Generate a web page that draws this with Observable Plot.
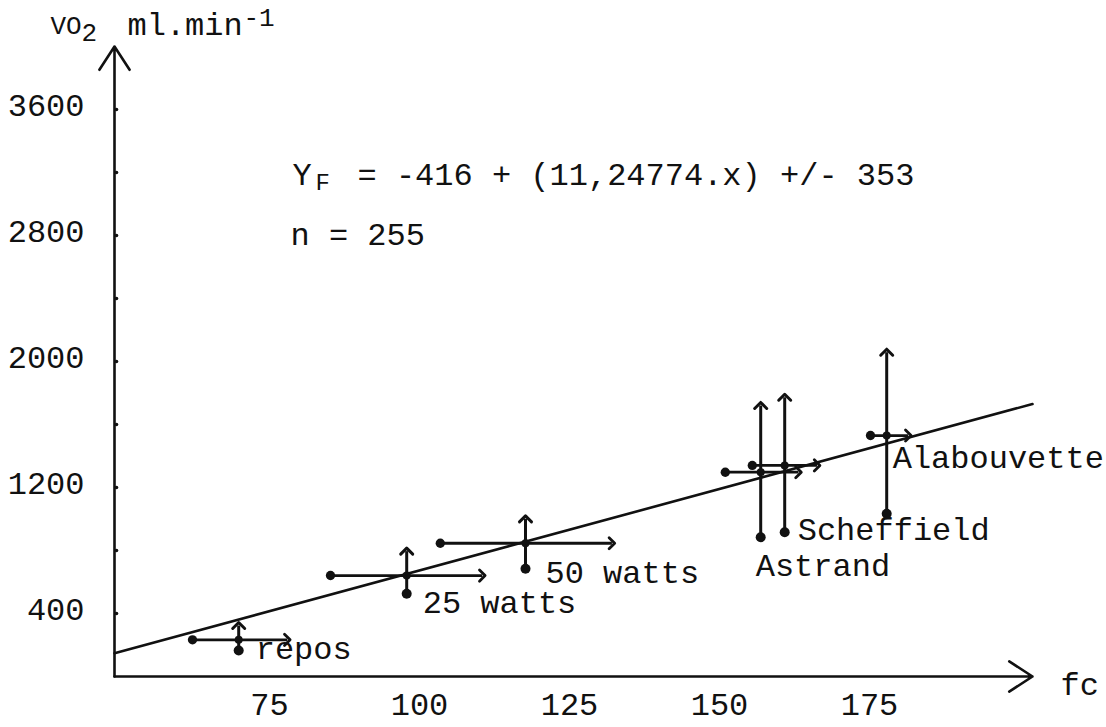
<!DOCTYPE html>
<html>
<head>
<meta charset="utf-8">
<script src="https://cdn.jsdelivr.net/npm/d3@7"></script>
<script src="https://cdn.jsdelivr.net/npm/@observablehq/plot@0.6"></script>
<style>
  html, body { margin: 0; padding: 0; background: #fff; }
  #chart svg { display: block; }
</style>
</head>
<body>
<div id="chart"></div>
<script>
// ---- data ----
const conditions = ["repos", "25 watts", "50 watts", "Astrand", "Scheffield", "Alabouvette"];
const fcMean  = [70.7, 98.7, 118.5, 157.7, 161.7, 178.7];
const fcLow   = [63.0, 86.0, 104.3, 151.8, 156.3, 176.0];
const fcHigh  = [78.8, 111.3, 132.9, 164.0, 167.1, 182.3];
const vo2Mean = [233, 641, 846, 1297, 1340, 1530];
const vo2Low  = [165, 525, 684, 884, 916, 1033];
const vo2High = [324, 796, 1001, 1721, 1773, 2059];

const fitFc  = [50, 203];
const fitVo2 = [148, 1730];

const xAxisExtent = [50, 203];
const yAxisExtent = [0, 4000];
const xTicks = [75, 100, 125, 150, 175];
const yTickLabels = [400, 1200, 2000, 2800, 3600];
const yMinorTicks = [400, 800, 1200, 1600, 2000, 2400, 2800, 3200, 3600];

const yLabelParts = ["VO", "2", "ml.min", "-1"];
const xLabel = "fc";
const equationParts = ["Y", "F", "= -416 + (11,24774.x) +/- 353"];
const nText = "n = 255";

// ---- build tables ----
const points = conditions.map((c, i) => ({
  name: c, fc: fcMean[i], lo: fcLow[i], hi: fcHigh[i],
  vo2: vo2Mean[i], vlo: vo2Low[i], vhi: vo2High[i]
}));
const fitLine = fitFc.map((x, i) => ({fc: x, vo2: fitVo2[i]}));
const axes = [
  {x1: xAxisExtent[0], y1: yAxisExtent[0], x2: xAxisExtent[1], y2: yAxisExtent[0]},
  {x1: xAxisExtent[0], y1: yAxisExtent[0], x2: xAxisExtent[0], y2: yAxisExtent[1]}
];

// label offsets (pixels) relative to each mean point
const labelOffsets = {
  "repos": [17, 8.5], "25 watts": [16, 27], "50 watts": [20, 29],
  "Astrand": [-5, 94], "Scheffield": [13, 64], "Alabouvette": [6, 22]
};

const ink = "#111";
const FS = 32;

const labelMarks = points.map(p => Plot.text([p], {
  x: "fc", y: "vo2", text: "name", textAnchor: "start", lineAnchor: "middle",
  dx: labelOffsets[p.name][0], dy: labelOffsets[p.name][1], fontSize: FS, fill: ink
}));

const tl = (txt, dx, dy, fs) => Plot.text([txt], {
  text: d => d, frameAnchor: "top-left", textAnchor: "start", lineAnchor: "middle",
  dx, dy, fontSize: fs, fill: ink
});

const chart = Plot.plot({
  width: 1106, height: 727,
  marginLeft: 114, marginRight: 74, marginTop: 46, marginBottom: 51,
  x: {domain: xAxisExtent},
  y: {domain: yAxisExtent},
  style: {fontFamily: "'Liberation Mono', 'DejaVu Sans Mono', monospace", fontSize: FS + "px", color: ink, background: "#fff"},
  marks: [
    // axes with arrowheads
    Plot.arrow(axes, {x1: "x1", y1: "y1", x2: "x2", y2: "y2", stroke: ink, strokeWidth: 2.6, headLength: 16, headAngle: 66}),
    Plot.dot(yMinorTicks, {x: () => xAxisExtent[0], y: d => d, r: 1.8, dx: 2, fill: ink}),
    Plot.axisY(yTickLabels, {tickSize: 0, tickPadding: 30, dy: -4, fontSize: FS, tickFormat: d => String(d), fill: ink, label: null}),
    Plot.axisX(xTicks, {tickSize: 0, tickPadding: 16, dx: 5, fontSize: FS, tickFormat: d => String(d), fill: ink, label: null}),
    // regression line
    Plot.line(fitLine, {x: "fc", y: "vo2", stroke: ink, strokeWidth: 2.6}),
    // error bars
    Plot.link(points, {x1: "lo", x2: "hi", y1: "vo2", y2: "vo2", stroke: ink, strokeWidth: 2.8, markerStart: "dot", markerEnd: "arrow"}),
    Plot.link(points, {x1: "fc", x2: "fc", y1: "vlo", y2: "vhi", stroke: ink, strokeWidth: 3, markerStart: "dot", markerEnd: "arrow"}),
    Plot.dot(points, {x: "fc", y: "vo2", r: 4, fill: ink}),
    ...labelMarks,
    // y-axis title with sub/superscripts
    tl(yLabelParts[0], -64, -21, 26),
    tl(yLabelParts[1], -33, -14, 26),
    tl(yLabelParts[2], 13, -22, FS),
    tl(yLabelParts[3], 129, -29, 26),
    // equation
    tl(equationParts[0], 178, 128, FS),
    tl(equationParts[1], 201, 136, 24),
    tl(equationParts[2], 243, 128, FS),
    tl(nText, 176, 188, FS),
    // x-axis title
    Plot.text([xLabel], {text: d => d, frameAnchor: "bottom-right", textAnchor: "start", lineAnchor: "middle", dx: 28, dy: 8, fontSize: FS, fill: ink})
  ]
});
document.getElementById("chart").appendChild(chart);
</script>
</body>
</html>
